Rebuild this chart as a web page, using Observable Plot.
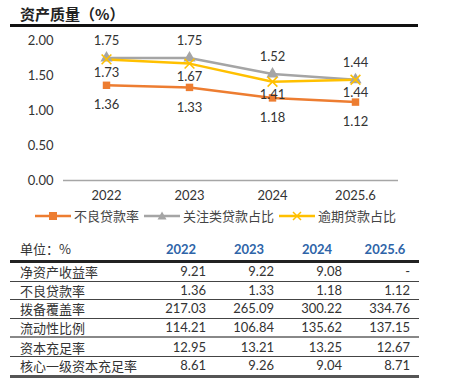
<!DOCTYPE html>
<html>
<head>
<meta charset="utf-8">
<script src="https://cdn.jsdelivr.net/npm/d3@7"></script>
<script src="https://cdn.jsdelivr.net/npm/@observablehq/plot@0.6"></script>
<style>
  body { margin:0; background:#fff; font-family: Lato, "Noto Sans CJK SC", sans-serif; color:#333; }
  #wrap { position:relative; width:470px; height:385px; overflow:hidden; }
  #title { position:absolute; left:20px; top:3px; font-size:15px; font-weight:bold; color:#222; font-family:"Noto Sans CJK SC", sans-serif; }
  #rule { position:absolute; left:10px; top:24px; width:408px; height:3px; background:#111; }
  #chart { position:absolute; left:0; top:28px; }
  #legend { position:absolute; left:35px; top:206px; display:flex; align-items:center; font-size:13px; color:#444; font-family:"Noto Sans CJK SC", sans-serif; }
  #legend .item { display:flex; align-items:center; margin-right:5px; }
  #legend svg { margin-right:3px; }
  table { position:absolute; left:10px; top:237px; width:409px; border-collapse:collapse; font-size:13px; color:#333; table-layout:fixed; }
  th { font-weight:bold; color:#2E64A8; text-align:center; height:23px; line-height:16px; padding:0; font-family:Lato, sans-serif; }
  th.unit { text-align:left; padding-left:10px; color:#333; font-weight:normal; font-family:"Noto Sans CJK SC", sans-serif; }
  td { height:17.6px; line-height:15px; padding:0; border-bottom:1px solid #444; font-family:Lato, sans-serif; overflow:hidden; white-space:nowrap; }
  td.lab { padding-left:10px; font-family:"Noto Sans CJK SC", sans-serif; color:#333; }
  td.val { text-align:right; padding-right:9px; }
  thead tr { border-bottom:3px solid #222; }
  tbody tr:nth-child(4) td { border-bottom:2px solid #888; }
  tbody tr:last-child td { border-bottom:3px solid #555; }
</style>
</head>
<body>
<div id="wrap">
  <div id="title">资产质量（%）</div>
  <div id="rule"></div>
  <div id="chart"></div>
  <div id="legend"></div>
  <table id="tbl"></table>
</div>
<script>
const years = ["2022", "2023", "2024", "2025.6"];
const nplRatio = [1.36, 1.33, 1.18, 1.12];
const specialMention = [1.75, 1.75, 1.52, 1.44];
const overdueRatio = [1.73, 1.67, 1.41, 1.44];
const seriesNames = ["不良贷款率", "关注类贷款占比", "逾期贷款占比"];
const yTicks = [0, 0.5, 1, 1.5, 2];

const tableUnit = "单位：%";
const tableLabels = ["净资产收益率", "不良贷款率", "拨备覆盖率", "流动性比例", "资本充足率", "核心一级资本充足率"];
const col2022 = ["9.21", "1.36", "217.03", "114.21", "12.95", "8.61"];
const col2023 = ["9.22", "1.33", "265.09", "106.84", "13.21", "9.26"];
const col2024 = ["9.08", "1.18", "300.22", "135.62", "13.25", "9.04"];
const col2025 = ["-", "1.12", "334.76", "137.15", "12.67", "8.71"];

const colors = ["#ED7D31", "#A5A5A5", "#FFC000"];
const symbols = ["square", "triangle", "times"];

const mk = (vals) => years.map((y, i) => ({year: y, value: vals[i]}));
const sNpl = mk(nplRatio), sSpec = mk(specialMention), sOver = mk(overdueRatio);

const fmt = d3.format(".2f");
const plot = Plot.plot({
  width: 470,
  height: 177,
  marginTop: 12,
  marginBottom: 25,
  marginLeft: 63,
  marginRight: 72,
  style: {fontFamily: "Lato, sans-serif", fontSize: "13px", color: "#333", background: "transparent"},
  x: {type: "point", domain: years, padding: 0.5, label: null},
  y: {domain: [0, 2], label: null},
  marks: [
    Plot.axisY({ticks: yTicks, tickFormat: fmt, tickSize: 0, tickPadding: 10, fontSize: 13}),
    Plot.axisX({tickSize: 0, tickPadding: 10, fontSize: 13}),
    Plot.ruleY([0], {stroke: "#A6A6A6", strokeWidth: 1.5}),
    Plot.line(sSpec, {x: "year", y: "value", stroke: colors[1], strokeWidth: 2.5}),
    Plot.line(sOver, {x: "year", y: "value", stroke: colors[2], strokeWidth: 2.5}),
    Plot.line(sNpl, {x: "year", y: "value", stroke: colors[0], strokeWidth: 2.5}),
    Plot.dot(sNpl, {x: "year", y: "value", symbol: "square", fill: colors[0], r: 4.2}),
    Plot.dot(sSpec, {x: "year", y: "value", symbol: "triangle", fill: colors[1], r: 4.5}),
    Plot.dot(sOver, {x: "year", y: "value", symbol: "times", stroke: colors[2], strokeWidth: 1.6, r: 4.5}),
    Plot.text(sSpec, {x: "year", y: "value", text: d => fmt(d.value), dy: -17, fill: "#333", fontSize: 13}),
    Plot.text(sOver, {x: "year", y: "value", text: d => fmt(d.value), dy: 13, fill: "#333", fontSize: 13}),
    Plot.text(sNpl, {x: "year", y: "value", text: d => fmt(d.value), dy: 20, fill: "#333", fontSize: 13})
  ]
});
document.getElementById("chart").appendChild(plot);

// legend
const legend = document.getElementById("legend");
seriesNames.forEach((name, i) => {
  const item = document.createElement("div");
  item.className = "item";
  let marker;
  if (symbols[i] === "square") marker = `<rect x="14" y="3" width="8" height="8" fill="${colors[i]}"/>`;
  else if (symbols[i] === "triangle") marker = `<path d="M18,2.5 L22.5,10.5 L13.5,10.5Z" fill="${colors[i]}"/>`;
  else marker = `<path d="M14,3 L22,11 M22,3 L14,11" stroke="${colors[i]}" stroke-width="1.5"/>`;
  item.innerHTML = `<svg width="36" height="14"><line x1="0" x2="36" y1="7" y2="7" stroke="${colors[i]}" stroke-width="2.5"/>${marker}</svg><span>${name}</span>`;
  legend.appendChild(item);
});

// table
const tbl = document.getElementById("tbl");
let html = `<colgroup><col style="width:137px"><col style="width:68px"><col style="width:68px"><col style="width:68px"><col style="width:68px"></colgroup>`;
html += `<thead><tr><th class="unit">${tableUnit}</th>${years.map(y => `<th>${y}</th>`).join("")}</tr></thead><tbody>`;
tableLabels.forEach((lab, i) => {
  html += `<tr><td class="lab">${lab}</td><td class="val">${col2022[i]}</td><td class="val">${col2023[i]}</td><td class="val">${col2024[i]}</td><td class="val">${col2025[i]}</td></tr>`;
});
html += `</tbody>`;
tbl.innerHTML = html;
</script>
</body>
</html>
